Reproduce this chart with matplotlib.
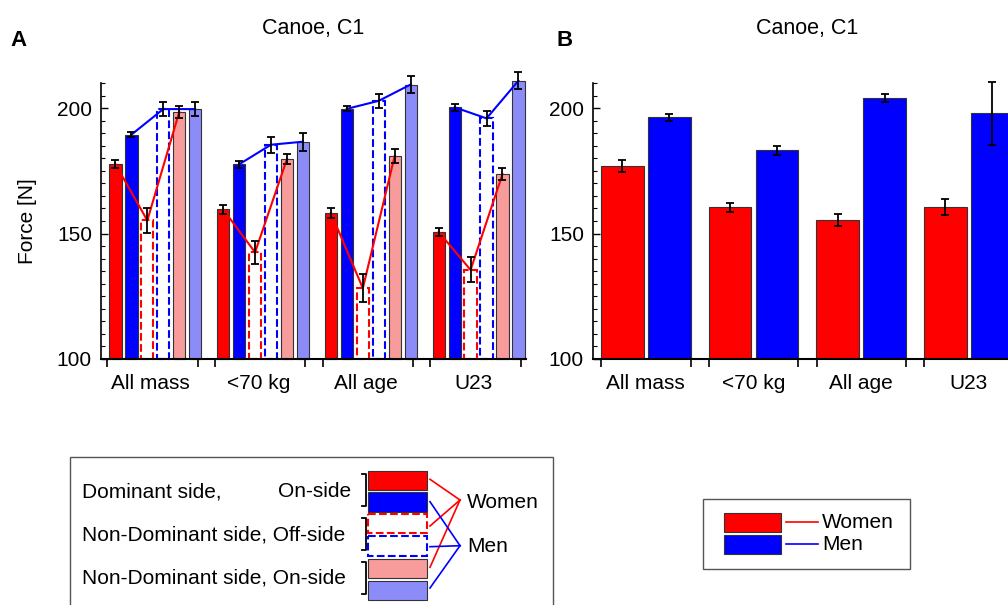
import numpy as np
import matplotlib
matplotlib.use("Agg")
import matplotlib.pyplot as plt
from matplotlib.patches import Rectangle
from matplotlib.ticker import MultipleLocator, FixedLocator

plt.rcParams['font.family'] = ['Liberation Sans', 'DejaVu Sans']
plt.rcParams['font.size'] = 15

groups = ['All mass', '<70 kg', 'All age', 'U23']

# panel A: dominant / non-dominant side, women and men
women_dom_on = [177.7, 159.6, 158.2, 150.6]
women_dom_on_err = [1.6, 1.7, 2.0, 1.7]
men_dom_on = [189.4, 177.6, 199.7, 200.3]
men_dom_on_err = [1.0, 1.5, 1.0, 1.3]
women_nd_off = [155.2, 142.5, 128.2, 135.5]
women_nd_off_err = [5.0, 4.6, 5.6, 5.0]
men_nd_off = [199.6, 185.4, 202.9, 195.9]
men_nd_off_err = [2.7, 3.2, 2.9, 2.9]
women_nd_on = [198.4, 179.7, 181.0, 173.7]
women_nd_on_err = [2.3, 2.0, 2.7, 2.5]
men_nd_on = [199.6, 186.6, 209.4, 210.9]
men_nd_on_err = [2.9, 3.6, 3.3, 3.3]

# panel B
women_b = [176.9, 160.4, 155.4, 160.6]
women_b_err = [2.3, 1.8, 2.3, 3.1]
men_b = [196.4, 183.1, 204.2, 197.9]
men_b_err = [1.4, 1.6, 1.6, 12.5]

RED = '#ff0000'
BLUE = '#0000ff'
LRED = '#f79b9b'
LBLUE = '#8c8cf8'
EDGE = '#333333'
BASE = 100
FS = 15

fig = plt.figure(figsize=(10.08, 6.05), dpi=100)


def style_axes(ax):
    for s in ['top', 'right']:
        ax.spines[s].set_visible(False)
    ax.spines['left'].set_linewidth(1.2)
    ax.spines['bottom'].set_linewidth(1.5)
    ax.set_ylim(100, 210)
    ax.yaxis.set_major_locator(MultipleLocator(50))
    ax.yaxis.set_minor_locator(MultipleLocator(5))
    ax.tick_params(axis='y', which='major', direction='in', length=5, width=1, pad=6.5)
    ax.tick_params(axis='y', which='minor', direction='in', length=3, width=0.8)
    ax.tick_params(axis='x', which='major', length=0, pad=11)
    ax.tick_params(axis='x', which='minor', direction='out', length=6, width=1.2)


def errbars(ax, x, y, e):
    ax.errorbar(x, y, yerr=e, fmt='none', ecolor='black', elinewidth=1.3,
                capsize=3, capthick=1.3, zorder=5, clip_on=False)


# ---------------- panel A ----------------
axA = fig.add_axes([101 / 1008, 1 - 359 / 605, 425 / 1008, 276 / 605])
gstep = 6.76
centers = np.arange(len(groups)) * gstep
w = 0.77
series = [
    (women_dom_on, women_dom_on_err, RED, EDGE, '-'),
    (men_dom_on, men_dom_on_err, BLUE, EDGE, '-'),
    (women_nd_off, women_nd_off_err, 'white', RED, '--'),
    (men_nd_off, men_nd_off_err, 'white', BLUE, '--'),
    (women_nd_on, women_nd_on_err, LRED, EDGE, '-'),
    (men_nd_on, men_nd_on_err, LBLUE, EDGE, '-'),
]
xs = []
for i, (vals, errs, fc, ec, ls) in enumerate(series):
    x = centers + (i - 2.5)
    xs.append(x)
    vals = np.array(vals)
    lw = 1.5 if ls == '--' else 0.8
    axA.bar(x, vals - BASE, bottom=BASE, width=w, color=fc, edgecolor=ec,
            linestyle=ls, linewidth=lw, zorder=2, clip_on=False)
    errbars(axA, x, vals, errs)

for g in range(len(groups)):
    axA.plot([xs[0][g], xs[2][g], xs[4][g]],
             [women_dom_on[g], women_nd_off[g], women_nd_on[g]],
             color=RED, lw=1.5, zorder=4, clip_on=False)
    axA.plot([xs[1][g], xs[3][g], xs[5][g]],
             [men_dom_on[g], men_nd_off[g], men_nd_on[g]],
             color=BLUE, lw=1.5, zorder=4, clip_on=False)

axA.set_xlim(-3.405, -3.405 + 26.66)
style_axes(axA)
axA.set_xticks(centers - 0.3)
axA.set_xticklabels(groups)
axA.xaxis.set_minor_locator(FixedLocator(np.concatenate([centers - 3.03, centers + 2.65])))
axA.set_ylabel('Force [N]', labelpad=14)
axA.set_title('Canoe, C1', fontsize=15.5, pad=35.5)

# ---------------- panel B ----------------
axB = fig.add_axes([593 / 1008, 1 - 359 / 605, 428 / 1008, 276 / 605])
gstepB = 2.29
centersB = np.arange(len(groups)) * gstepB
wB = 0.907
axB.bar(centersB - 0.5, np.array(women_b) - BASE, bottom=BASE, width=wB,
        color=RED, edgecolor=EDGE, linewidth=0.8, zorder=2)
axB.bar(centersB + 0.5, np.array(men_b) - BASE, bottom=BASE, width=wB,
        color=BLUE, edgecolor=EDGE, linewidth=0.8, zorder=2)
errbars(axB, centersB - 0.5, women_b, women_b_err)
errbars(axB, centersB + 0.5, men_b, men_b_err)
axB.set_xlim(-1.124, -1.124 + 9.1)
style_axes(axB)
axB.set_xticks(centersB)
axB.set_xticklabels(groups)
axB.xaxis.set_minor_locator(FixedLocator(np.concatenate([centersB - 0.95, centersB + 0.95])))
axB.set_title('Canoe, C1', fontsize=15.5, pad=35.5)

fig.text(10 / 1008, 1 - 40 / 605, 'A', fontsize=16, fontweight='bold', va='center')
fig.text(557 / 1008, 1 - 40 / 605, 'B', fontsize=16, fontweight='bold', va='center')

# ---------------- legends (drawn in pixel coordinates) ----------------
ov = fig.add_axes([0, 0, 1, 1], zorder=10)
ov.set_xlim(0, 1008)
ov.set_ylim(605, 0)
ov.axis('off')
ov.patch.set_alpha(0)

ov.add_patch(Rectangle((70, 457), 483, 160, fill=False, edgecolor='#555555', lw=1.0))
row_text = [('Dominant side,', 'On-side', 491.5),
            ('Non-Dominant side, Off-side', None, 535),
            ('Non-Dominant side, On-side', None, 578)]
for left, right, y in row_text:
    ov.text(82, y, left, fontsize=FS, va='center', ha='left')
    if right:
        ov.text(351, y, right, fontsize=FS, va='center', ha='right')

for y0, y1 in [(474, 506), (518, 550), (562, 594)]:
    ov.plot([361.5, 365.5, 365.5, 361.5], [y0, y0, y1, y1], color='black', lw=1.3)

swatches = [(470.7, RED, EDGE, '-'), (492.3, BLUE, EDGE, '-'),
            (514.0, 'white', RED, '--'), (536.3, 'white', BLUE, '--'),
            (558.7, LRED, EDGE, '-'), (580.7, LBLUE, EDGE, '-')]
for y, fc, ec, ls in swatches:
    ov.add_patch(Rectangle((368.3, y), 58.4, 19.4, facecolor=fc, edgecolor=ec,
                           linestyle=ls, lw=1.5 if ls == '--' else 0.8))

for ys in [479.3, 526, 567.3]:
    ov.plot([430, 460], [ys, 500], color=RED, lw=1.2)
for ys in [501.7, 546.7, 588]:
    ov.plot([430, 460], [ys, 545.7], color=BLUE, lw=1.2)
ov.text(467, 502, 'Women', fontsize=FS, va='center', ha='left')
ov.text(467, 546, 'Men', fontsize=FS, va='center', ha='left')

ov.add_patch(Rectangle((703, 499), 207, 70, fill=False, edgecolor='#555555', lw=1.0))
ov.add_patch(Rectangle((724, 512.7), 57, 19.3, facecolor=RED, edgecolor=EDGE, lw=0.8))
ov.add_patch(Rectangle((724, 535.3), 57, 18.7, facecolor=BLUE, edgecolor=EDGE, lw=0.8))
ov.plot([786, 818], [522.3, 522.3], color=RED, lw=1.2)
ov.plot([786, 818], [544, 544], color=BLUE, lw=1.2)
ov.text(822, 522, 'Women', fontsize=FS, va='center', ha='left')
ov.text(822, 544, 'Men', fontsize=FS, va='center', ha='left')

fig.savefig('out.png', dpi=100)
